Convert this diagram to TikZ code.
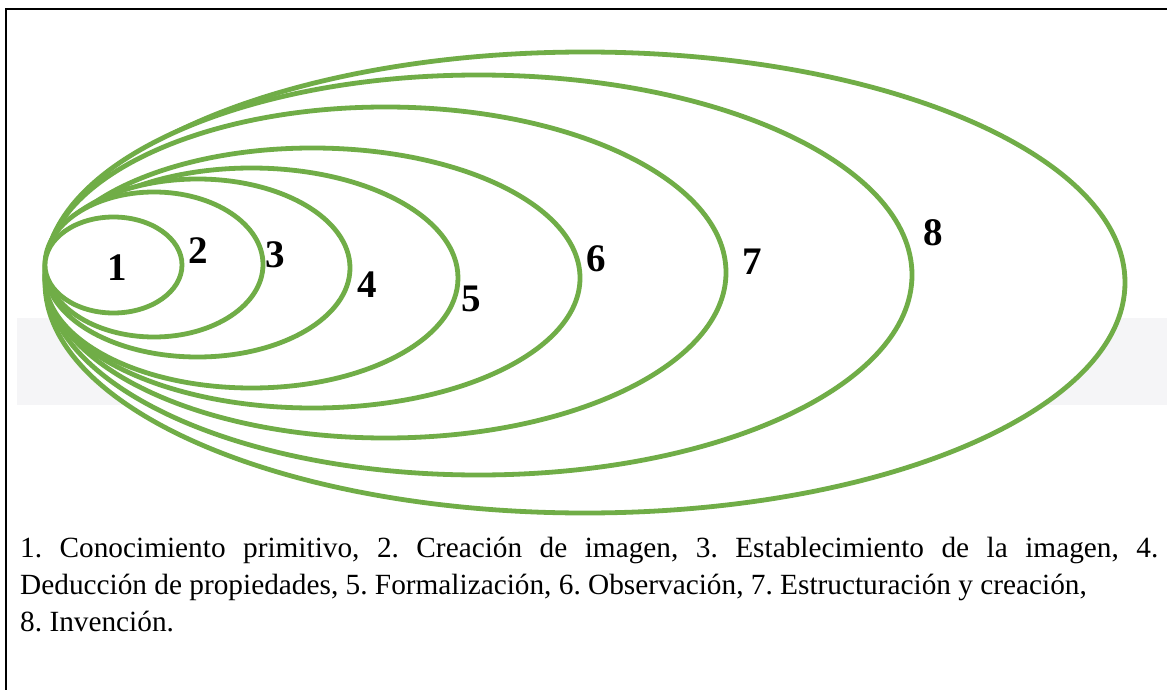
\documentclass[tikz,border=0pt]{standalone}
\usepackage{fontspec}
\setmainfont{Liberation Serif}
\frenchspacing
\definecolor{ringgreen}{RGB}{112,173,71}
\definecolor{bandgrey}{RGB}{245,245,247}
\begin{document}
\begin{tikzpicture}[x=1pt,y=-1pt,
  ring/.style={draw=ringgreen,line width=4.8pt,fill=white},
  numlabel/.style={font=\fontsize{39}{42}\selectfont\bfseries,inner sep=0pt},
  legend/.style={font=\fontsize{29.3}{37}\selectfont,anchor=base west,inner sep=0pt}]
\useasboundingbox (0,0) rectangle (1167,690);
\fill[white] (0,0) rectangle (1167,690);
% grey band
\fill[bandgrey] (17,318) rectangle (1167,405);
% frame
\draw[line width=2.2pt] (6,690) -- (6,9) -- (1167,9);
% ellipses, outermost first
\draw[ring] (585,282.5) ellipse [x radius=540pt, y radius=230.5pt];
\draw[ring] (478.5,275) ellipse [x radius=433.5pt, y radius=200pt];
\draw[ring] (385.5,272.5) ellipse [x radius=340.5pt, y radius=165.5pt];
\draw[ring] (312.5,278) ellipse [x radius=267.5pt, y radius=130pt];
\draw[ring] (251.5,278) ellipse [x radius=206.5pt, y radius=110pt];
\draw[ring] (197.5,268) ellipse [x radius=152.5pt, y radius=89pt];
\draw[ring] (154,264.5) ellipse [x radius=109pt, y radius=72.5pt];
\draw[ring] (113.5,265) ellipse [x radius=68.5pt, y radius=48pt];
% labels
\node[numlabel] (n1) at (117,268) {1};
\node[numlabel] (n2) at (198,251) {2};
\node[numlabel] (n3) at (275,255) {3};
\node[numlabel] (n4) at (367,285) {4};
\node[numlabel] (n5) at (471,299) {5};
\node[numlabel] (n6) at (596,259) {6};
\node[numlabel] (n7) at (752,262) {7};
\node[numlabel] (n8) at (933,233) {8};
% legend
\node[legend] (l1) at (20,557) {\makebox[1138pt][s]{1. Conocimiento primitivo, 2. Creación de imagen, 3. Establecimiento de la imagen, 4.}};
\node[legend] (l2) at (20,594) {Deducción de propiedades, 5. Formalización, 6. Observación, 7. Estructuración y creación,};
\node[legend] (l3) at (20,631) {8. Invención.};
\end{tikzpicture}
\end{document}
